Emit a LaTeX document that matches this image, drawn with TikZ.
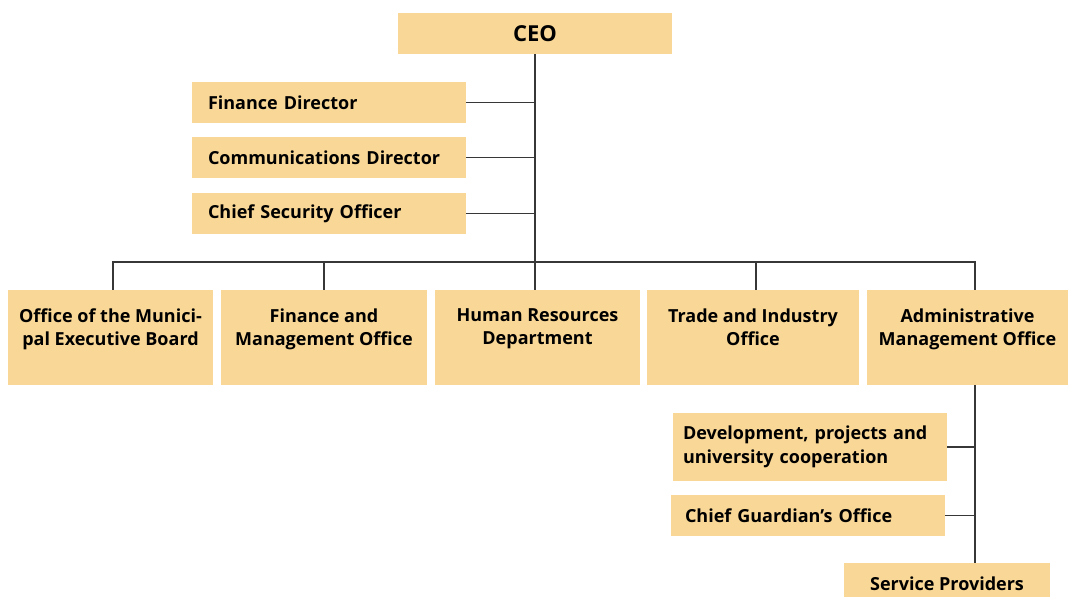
\documentclass[tikz,border=0pt]{standalone}
\usepackage{fontspec}
\setmainfont{Open Sans}
\usetikzlibrary{positioning}
\definecolor{boxfill}{RGB}{249,215,150}
\definecolor{linegray}{RGB}{55,55,55}
\tikzstyle{topbox} = [rectangle, fill=boxfill, minimum width=274pt, minimum height=41pt, text centered, font=\bfseries\fontsize{22}{26}\selectfont]
\tikzstyle{sidebox} = [rectangle, fill=boxfill, minimum height=41pt, text width=242pt, inner xsep=16pt, align=left, font=\bfseries\fontsize{18}{24}\selectfont]
\tikzstyle{unitbox} = [rectangle, fill=boxfill, inner xsep=4pt, inner ysep=19pt, font=\bfseries\fontsize{18}{23}\selectfont]
\tikzstyle{link} = [draw=linegray, line width=1.3pt]
\newcommand{\unittext}[2]{\parbox[t][57pt][t]{#1}{\centering #2}}

\begin{document}
\begin{tikzpicture}[x=1pt, y=-1pt]
    \useasboundingbox (0,0) rectangle (1069,597);

    \node (ceo) [topbox] at (535,33.5) {CEO};
    \node (findir) [sidebox] at (329,102.5) {Finance Director};
    \node (commdir) [sidebox] at (329,157.5) {Communications Director};
    \node (secoff) [sidebox] at (329,213.5) {Chief Security Officer};

    \node (munboard) [unitbox] at (110.5,337.5) {\unittext{197pt}{Office of the Munici-\\pal Executive Board}};
    \node (finmgmt) [unitbox] at (324,337.5) {\unittext{198pt}{Finance and\\Management Office}};
    \node (hrdept) [unitbox] at (537.5,337.5) {\unittext{197pt}{Human Resources\\Department}};
    \node (trade) [unitbox] at (753,337.5) {\unittext{204pt}{Trade and Industry\\Office}};
    \node (admin) [unitbox] at (967.5,337.5) {\unittext{193pt}{Administrative\\Management Office}};

    \node (devproj) [sidebox, minimum height=68pt, text width=254pt, inner xsep=10pt] at (810,447) {Development, projects and\\university cooperation};
    \node (guardian) [sidebox, text width=246pt, inner xsep=14pt] at (808,515.5) {Chief Guardian’s Office};
    \node (service) [topbox, minimum width=206pt, font=\bfseries\fontsize{18}{23}\selectfont] at (947,583.5) {Service Providers};

    \coordinate (bus) at (535,262);
    \coordinate (spine) at (975,262);

    \draw [link] (ceo.south) -- (bus);
    \draw [link] (findir.east) -- (findir.east -| bus);
    \draw [link] (commdir.east) -- (commdir.east -| bus);
    \draw [link] (secoff.east) -- (secoff.east -| bus);
    \draw [link] ([xshift=2.5pt]munboard.north) |- (bus) -- (spine) -- (spine |- admin.north);
    \draw [link] (finmgmt.north) -- (bus -| finmgmt.north);
    \draw [link] (bus) -- (bus |- hrdept.north);
    \draw [link] ([xshift=3pt]trade.north) -- ([xshift=3pt]bus -| trade.north);
    \draw [link] (spine |- admin.south) -- (spine |- service.north);
    \draw [link] (devproj.east) -- (devproj.east -| spine);
    \draw [link] (guardian.east) -- (guardian.east -| spine);

  \end{tikzpicture}
\end{document}
